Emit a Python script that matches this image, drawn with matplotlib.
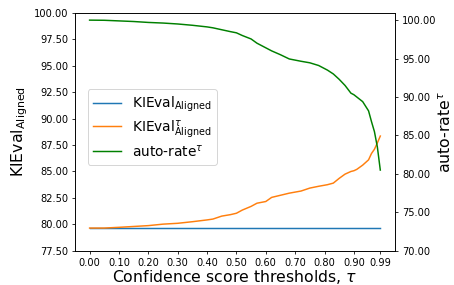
import matplotlib
matplotlib.use("Agg")
import matplotlib.pyplot as plt
from matplotlib.ticker import FormatStrFormatter

# thresholds tau and the curves
thresholds = [0.00, 0.05, 0.10, 0.15, 0.20, 0.25, 0.30, 0.35, 0.40, 0.42, 0.45, 0.48,
              0.50, 0.52, 0.55, 0.57, 0.60, 0.62, 0.65, 0.68, 0.72, 0.75, 0.78, 0.81,
              0.83, 0.85, 0.87, 0.89, 0.90, 0.91, 0.93, 0.95, 0.96, 0.97, 0.98, 0.99]
kieval_tau = [79.65, 79.65, 79.72, 79.80, 79.88, 80.02, 80.10, 80.25, 80.42, 80.50, 80.78, 80.92,
              81.05, 81.35, 81.70, 82.00, 82.16, 82.55, 82.75, 82.95, 83.15, 83.43, 83.60, 83.75,
              83.90, 84.35, 84.75, 85.00, 85.07, 85.20, 85.60, 86.10, 86.70, 87.10, 87.70, 88.35]
auto_rate = [100.0, 99.98, 99.90, 99.82, 99.70, 99.62, 99.50, 99.33, 99.12, 99.00, 98.75, 98.50,
             98.35, 98.00, 97.55, 97.00, 96.40, 96.00, 95.50, 94.95, 94.65, 94.45, 94.10, 93.50,
             93.00, 92.30, 91.50, 90.50, 90.30, 90.00, 89.40, 88.20, 86.80, 85.50, 83.50, 80.50]
base_thresholds = [0.00, 0.99]
kieval_base = [79.65, 79.65]

xticks = [0.0, 0.1, 0.2, 0.3, 0.4, 0.5, 0.6, 0.7, 0.8, 0.9, 0.99]

fig = plt.figure(figsize=(454 / 71, 285 / 71), dpi=71)
ax1 = fig.add_subplot(1, 1, 1)
fig.subplots_adjust(left=0.165, right=0.87, top=0.955, bottom=0.12)

l1, = ax1.plot(base_thresholds, kieval_base, color="tab:blue",
               label=r"KIEval$_{\mathrm{Aligned}}$")
l2, = ax1.plot(thresholds, kieval_tau, color="tab:orange",
               label=r"KIEval$^{\tau}_{\mathrm{Aligned}}$")
ax1.set_ylim(77.5, 100)
ax1.set_yticks([77.5 + 2.5 * i for i in range(10)])
ax1.yaxis.set_major_formatter(FormatStrFormatter("%.2f"))
ax1.set_xlim(-0.05, 1.04)
ax1.set_xticks(xticks)
ax1.xaxis.set_major_formatter(FormatStrFormatter("%.2f"))
ax1.set_xlabel(r"Confidence score thresholds, $\tau$", fontsize=16, labelpad=0)
ax1.set_ylabel(r"KIEval$_{\mathrm{Aligned}}$", fontsize=16)

ax2 = ax1.twinx()
l3, = ax2.plot(thresholds, auto_rate, color="green",
               label=r"auto-rate$^{\tau}$")
ax2.set_ylim(70, 100.95)
ax2.set_yticks([70, 75, 80, 85, 90, 95, 100])
ax2.yaxis.set_major_formatter(FormatStrFormatter("%.2f"))
ax2.set_ylabel(r"auto-rate$^{\tau}$", fontsize=16, labelpad=1)

ax1.legend(handles=[l1, l2, l3], loc="center left", bbox_to_anchor=(0.04, 0.52),
           borderaxespad=0, fontsize=14, labelspacing=0.25)

fig.savefig("out.png", dpi=71)
